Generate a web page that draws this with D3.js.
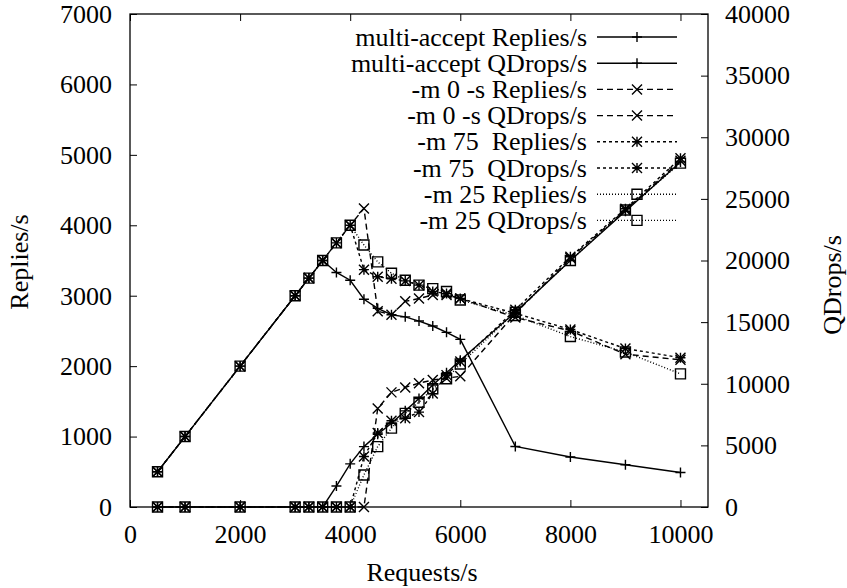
<html>
  <head>
    <script src="https://cdn.jsdelivr.net/npm/d3@7"></script>
  </head>
  <body style="margin:0">
    <div id="container"></div>
    <script>
      // requests/s on the x axis
      const requests = [500, 1000, 2000, 3000, 3250, 3500, 3750, 4000, 4250, 4500, 4750, 5000, 5250, 5500, 5750, 6000, 7000, 8000, 9000, 10000];

      // replies/s (left axis)
      const multiReplies = [500, 1000, 2000, 3000, 3250, 3500, 3330, 3220, 2950, 2820, 2730, 2700, 2640, 2570, 2480, 2380, 860, 710, 600, 490];
      const m0Replies = [500, 1000, 2000, 3000, 3250, 3500, 3750, 4000, 4240, 2780, 2730, 2920, 2960, 3010, 3010, 2960, 2690, 2500, 2170, 2090];
      const m75Replies = [500, 1000, 2000, 3000, 3250, 3500, 3750, 4000, 3370, 3270, 3240, 3210, 3150, 3060, 3030, 2960, 2750, 2520, 2250, 2120];
      const m25Replies = [500, 1000, 2000, 3000, 3250, 3500, 3750, 4000, 3720, 3480, 3320, 3220, 3150, 3100, 3060, 2940, 2720, 2420, 2200, 1890];

      // qdrops/s (right axis)
      const multiQDrops = [0, 0, 0, 0, 0, 0, 1700, 3500, 4900, 5900, 6800, 7800, 8800, 9900, 10900, 11900, 15800, 20000, 24000, 28000];
      const m0QDrops = [0, 0, 0, 0, 0, 0, 0, 0, 0, 8000, 9300, 9700, 10050, 10300, 10450, 10600, 15700, 20200, 24100, 28100];
      const m75QDrops = [0, 0, 0, 0, 0, 0, 0, 0, 4100, 6000, 7000, 7200, 7700, 9200, 10700, 11800, 16000, 20300, 24200, 28300];
      const m25QDrops = [0, 0, 0, 0, 0, 0, 0, 0, 2600, 4900, 6400, 7600, 8500, 9600, 10400, 11600, 15800, 20000, 24100, 27900];

      const xTicks = [0, 2000, 4000, 6000, 8000, 10000];
      const yTicks = [0, 1000, 2000, 3000, 4000, 5000, 6000, 7000];
      const y2Ticks = [0, 5000, 10000, 15000, 20000, 25000, 30000, 35000, 40000];

      const W = 847, H = 588;
      const padL = 130, padR = 708, padT = 14, padB = 507;
      const fs = 26;
      const serif = '"Liberation Serif"';

      const svg = d3.select("#container").append("svg")
        .attr("width", W).attr("height", H);

      const x = d3.scaleLinear().domain([0, 10500]).range([padL, padR]);
      const y = d3.scaleLinear().domain([0, 7000]).range([padB, padT]);
      const y2 = d3.scaleLinear().domain([0, 40000]).range([padB, padT]);

      function font(sel) {
        sel.style("font-family", serif).style("font-size", fs + "px").style("fill", "#000");
      }

      const tick = 7;
      function styleAxis(g) {
        g.select(".domain").remove();
        g.selectAll(".tick line").attr("stroke", "#000").attr("stroke-width", 1);
        g.selectAll(".tick text").call(font);
      }

      svg.append("g").attr("transform", `translate(0,${padB})`)
        .call(d3.axisBottom(x).tickValues(xTicks).tickSize(-tick).tickPadding(18).tickFormat(d3.format("d")))
        .call(styleAxis);
      svg.append("g").attr("transform", `translate(0,${padT})`)
        .call(d3.axisTop(x).tickValues(xTicks).tickSize(-tick).tickFormat(""))
        .call(styleAxis);
      svg.append("g").attr("transform", `translate(${padL},0)`)
        .call(d3.axisLeft(y).tickValues(yTicks).tickSize(-tick).tickPadding(18).tickFormat(d3.format("d")))
        .call(styleAxis);
      svg.append("g").attr("transform", `translate(${padR},0)`)
        .call(d3.axisRight(y2).tickValues(y2Ticks).tickSize(-tick).tickPadding(17).tickFormat(d3.format("d")))
        .call(styleAxis);

      svg.append("rect")
        .attr("x", padL).attr("y", padT)
        .attr("width", padR - padL).attr("height", padB - padT)
        .attr("fill", "none").attr("stroke", "#000").attr("stroke-width", 1.3);

      // axis titles
      svg.append("text").attr("x", (padL + padR) / 2 + 3).attr("y", 581)
        .attr("text-anchor", "middle").call(font).text("Requests/s");
      svg.append("text").attr("transform", "translate(28,262) rotate(-90)")
        .attr("text-anchor", "middle").call(font).text("Replies/s");
      svg.append("text").attr("transform", "translate(841,285) rotate(-90)")
        .attr("text-anchor", "middle").call(font).text("QDrops/s");

      // point shapes
      const r = 5;
      const shapes = {
        plus: `M${-r},0H${r}M0,${-r}V${r}`,
        cross: `M${-r},${-r}L${r},${r}M${-r},${r}L${r},${-r}`,
        star: `M${-r},0H${r}M0,${-r}V${r}M${-r},${-r}L${r},${r}M${-r},${r}L${r},${-r}`,
        square: `M${-r},${-r}H${r}V${r}H${-r}Z`
      };

      const series = [
        { label: "multi-accept Replies/s", values: multiReplies, axis: y, dash: null, shape: "plus" },
        { label: "multi-accept QDrops/s", values: multiQDrops, axis: y2, dash: null, shape: "plus" },
        { label: "-m 0 -s Replies/s", values: m0Replies, axis: y, dash: "6,4", shape: "cross" },
        { label: "-m 0 -s QDrops/s", values: m0QDrops, axis: y2, dash: "6,4", shape: "cross" },
        { label: "-m 75  Replies/s", values: m75Replies, axis: y, dash: "3,3", shape: "star" },
        { label: "-m 75  QDrops/s", values: m75QDrops, axis: y2, dash: "3,3", shape: "star" },
        { label: "-m 25 Replies/s", values: m25Replies, axis: y, dash: "1,2", shape: "square" },
        { label: "-m 25 QDrops/s", values: m25QDrops, axis: y2, dash: "1,2", shape: "square" }
      ];

      const plot = svg.append("g");
      series.forEach((s) => {
        const pts = requests.map((q, i) => [q, s.values[i]]);
        const line = d3.line().x((d) => x(d[0])).y((d) => s.axis(d[1]));
        plot.append("path").datum(pts)
          .attr("d", line)
          .attr("fill", "none").attr("stroke", "#000").attr("stroke-width", 1.4)
          .attr("stroke-dasharray", s.dash);
        plot.selectAll(null).data(pts).enter().append("path")
          .attr("transform", (d) => `translate(${x(d[0])},${s.axis(d[1])})`)
          .attr("d", shapes[s.shape])
          .attr("fill", "none").attr("stroke", "#000").attr("stroke-width", 1.4);
      });

      // key
      const key = svg.append("g");
      const rowH = 26.2;
      series.forEach((s, i) => {
        const ky = 37 + i * rowH;
        key.append("text").attr("x", 587).attr("y", ky).attr("dy", "0.33em")
          .attr("text-anchor", "end").call(font).style("white-space", "pre").text(s.label);
        key.append("line").attr("x1", 597).attr("x2", 677).attr("y1", ky).attr("y2", ky)
          .attr("stroke", "#000").attr("stroke-width", 1.4).attr("stroke-dasharray", s.dash);
        key.append("path").attr("transform", `translate(637,${ky})`)
          .attr("d", shapes[s.shape]).attr("fill", "none").attr("stroke", "#000").attr("stroke-width", 1.4);
      });
    </script>
  </body>
</html>
